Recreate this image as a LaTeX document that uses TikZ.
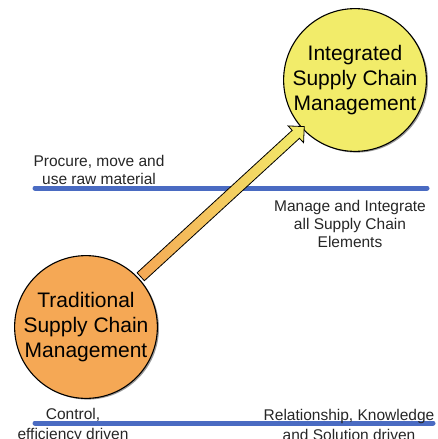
\documentclass[tikz,border=0pt]{standalone}
\usepackage{fontspec}
\setmainfont{Liberation Sans}
\usepackage{xcolor}
\usetikzlibrary{shapes,shadows}
\definecolor{tradcol}{HTML}{F5A855}
\definecolor{intcol}{HTML}{F2EC6A}
\definecolor{barcol}{HTML}{4A6BC2}

\begin{document}
\begin{tikzpicture}[x=1pt, y=-1pt, main node/.style={circle, draw, line width=1.1pt, minimum size=142pt, inner sep=0pt, align=center, font=\fontsize{21}{25}\selectfont, drop shadow={shadow xshift=1.6pt, shadow yshift=-1.2pt, opacity=0.8}}, text node/.style={align=center, font=\fontsize{15.5}{18}\selectfont, text=black!85}, bar/.style={line width=5pt, barcol, line cap=round}, arrow node/.style={single arrow, draw, line width=0.8pt, minimum height=222pt, inner sep=5pt, single arrow head extend=6pt, single arrow head indent=0pt, left color=tradcol, right color=intcol}]
\useasboundingbox (0,0) rectangle (438,439);
\draw [bar] (35,188) -- (427,188);
\draw [bar] (35,423) -- (433,423);
\node[main node, fill=tradcol] (1) at (86,327) {Traditional\\Supply Chain\\Management};
\node[main node, fill=intcol] (2) at (355,80) {Integrated\\Supply Chain\\Management};
\node[text node] (3) at (99,170) {Procure, move and\\use raw material};
\node[text node] (4) at (350,224) {Manage and Integrate\\all Supply Chain\\Elements};
\node[text node, font=\fontsize{15.5}{20}\selectfont] (5) at (73,425) {Control,\\efficiency driven};
\node[text node, font=\fontsize{15.5}{20}\selectfont] (6) at (349,425) {Relationship, Knowledge\\and Solution driven};
\path (1) -- node[arrow node, sloped] {} (2);
\end{tikzpicture}
\end{document}
